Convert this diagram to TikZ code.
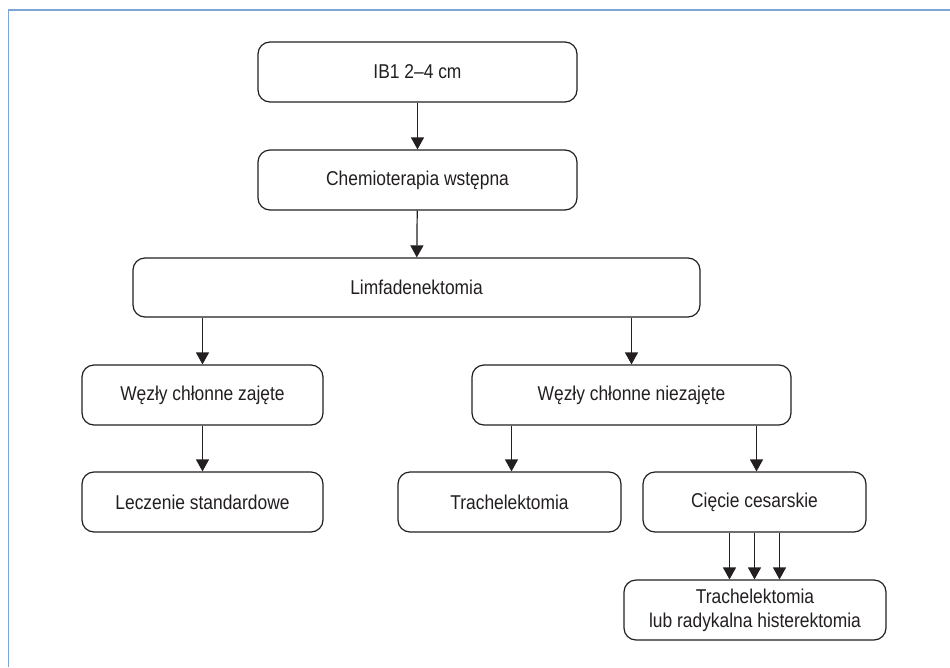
\documentclass[tikz,border=0pt]{standalone}
\usepackage{fontspec}
\setmainfont{Liberation Sans}[FakeStretch=0.87]
\usetikzlibrary{arrows.meta,calc}
\definecolor{framecol}{RGB}{125,165,215}
\definecolor{ink}{RGB}{35,31,32}
\begin{document}
\begin{tikzpicture}[x=1pt,y=-1pt,
  box/.style={draw=ink,line width=1.2pt,rounded corners=12pt,minimum height=60pt,inner sep=0pt,text=ink,font=\fontsize{20}{24}\selectfont,align=center},
  arr/.style={draw=ink,line width=1.2pt,-{Triangle[length=12pt,width=13pt]}}]
\useasboundingbox (0,0) rectangle (950,667);
\fill[white] (0,0) rectangle (950,667);
\draw[framecol,line width=1.5pt] (8.5,667) -- (8.5,10) -- (950,10);
\node[box,minimum width=319pt] (ib) at (417.5,72) {IB1 2–4 cm};
\node[box,minimum width=319pt] (chemo) at (417.5,180) {Chemioterapia wstępna};
\node[box,minimum width=567pt,minimum height=59pt] (limf) at (416.5,287.5) {Limfadenektomia};
\node[box,minimum width=241pt] (zaj) at (202.5,395) {Węzły chłonne zajęte};
\node[box,minimum width=319pt] (niez) at (631.5,395) {Węzły chłonne niezajęte};
\node[box,minimum width=241pt] (lecz) at (202.5,502) {Leczenie standardowe};
\node[box,minimum width=223pt] (trach) at (509.5,502) {Trachelektomia};
\node[box,minimum width=223pt] (ciec) at (754.5,502) {Cięcie cesarskie};
\node[box,minimum width=262pt] (fin) at (755,610) {Trachelektomia\\lub radykalna histerektomia};
\draw[arr] (ib) -- (chemo);
\draw[arr] (chemo) -- (limf);
\draw[arr] (limf.south -| zaj) -- (zaj);
\draw[arr] (limf.south -| niez) -- (niez);
\draw[arr] (zaj) -- (lecz);
\draw[arr] ([xshift=2pt]trach.north |- niez.south) -- ([xshift=2pt]trach.north);
\draw[arr] ([xshift=2pt]ciec.north |- niez.south) -- ([xshift=2pt]ciec.north);
\draw[arr] ([xshift=-25pt]ciec.south) -- ([xshift=-25pt]ciec.south |- fin.north);
\draw[arr] (ciec.south) -- (ciec.south |- fin.north);
\draw[arr] ([xshift=25pt]ciec.south) -- ([xshift=25pt]ciec.south |- fin.north);
\end{tikzpicture}
\end{document}
